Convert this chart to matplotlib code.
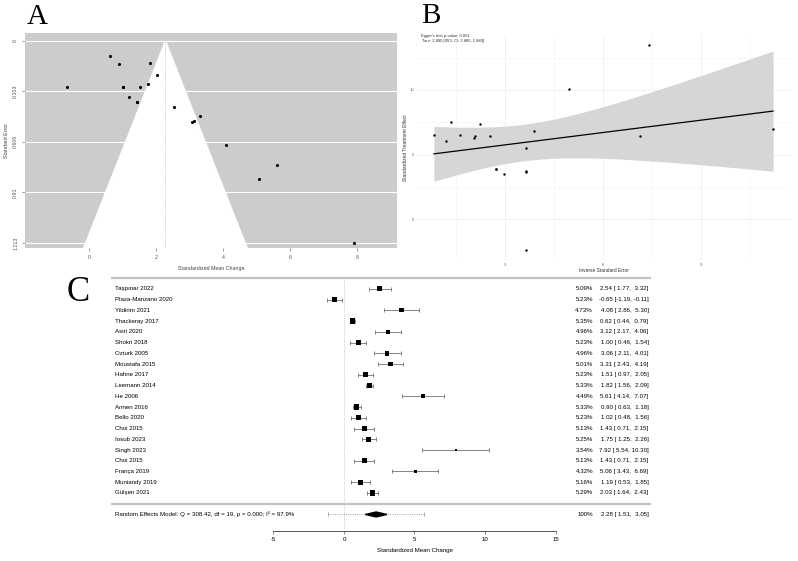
import numpy as np
import matplotlib.pyplot as plt

# study data (forest plot C)
studies = ["Taşpınar 2022", "Plaza-Manzano 2020", "Yildirim 2021", "Thackeray 2017",
           "Asiri 2020", "Shokri 2018", "Ozturk 2005", "Moustafa 2015", "Hahne 2017",
           "Leemann 2014", "He 2006", "Annen 2016", "Bello 2020", "Choi 2015",
           "Iosub 2023", "Singh 2023", "Choi 2015", "França 2019", "Muniandy 2019",
           "Gülşen 2021"]
smd = [2.54, -0.65, 4.08, 0.62, 3.12, 1.00, 3.06, 3.31, 1.51, 1.82,
       5.61, 0.90, 1.02, 1.43, 1.75, 7.92, 1.43, 5.06, 1.19, 2.03]
ci_low = [1.77, -1.19, 2.86, 0.44, 2.17, 0.46, 2.11, 2.43, 0.97, 1.56,
          4.14, 0.63, 0.48, 0.71, 1.25, 5.54, 0.71, 3.43, 0.53, 1.64]
ci_high = [3.32, -0.11, 5.30, 0.79, 4.06, 1.54, 4.01, 4.19, 2.05, 2.09,
           7.07, 1.18, 1.56, 2.15, 2.26, 10.30, 2.15, 6.69, 1.85, 2.43]
weights = [5.09, 5.23, 4.73, 5.35, 4.96, 5.23, 4.96, 5.01, 5.23, 5.33,
           4.49, 5.33, 5.23, 5.13, 5.25, 3.54, 5.13, 4.32, 5.16, 5.29]

re_est, re_low, re_high = 2.28, 1.51, 3.05
pi_low, pi_high = -1.13, 5.69
re_label = "Random Effects Model: Q = 308.42, df = 19, p = 0.000; I² = 97.9%"

funnel_ticks = [0, 0.303, 0.606, 0.91, 1.213]
funnel_tick_labels = ["0", "0.303", "0.606", "0.91", "1.213"]
egger_text = "Egger's test p-value: 0.001\n Tau²: 2.880 [95% CI: 2.880, 1.889]"

smd = np.array(smd)
ci_low = np.array(ci_low)
ci_high = np.array(ci_high)
weights = np.array(weights)
se = (ci_high - ci_low) / (2 * 1.96)

plt.rcParams['font.family'] = ['Liberation Sans', 'DejaVu Sans']
plt.rcParams['axes.unicode_minus'] = False
W, H = 798, 561
fig = plt.figure(figsize=(W / 100, H / 100), dpi=100)


def px_axes(left, top, right, bottom):
    return fig.add_axes([left / W, 1 - bottom / H, (right - left) / W, (bottom - top) / H])


# ---------------- A: funnel plot ----------------
axA = px_axes(25, 33, 397, 248)
axA.set_facecolor('#cccccc')
se_max = 1.244
axA.set_xlim(-1.91, 9.19)
axA.set_ylim(se_max, -0.048)
axA.fill([re_est - 1.96 * se_max, re_est, re_est + 1.96 * se_max], [se_max, 0, se_max],
         color='white', zorder=1)
for t in funnel_ticks:
    axA.axhline(t, color='white', lw=0.8, zorder=0.5)
axA.plot([re_est, re_est], [0, se_max], ls=':', color='#b0b0b0', lw=0.6, zorder=2)
axA.scatter(smd, se, s=5, color='black', zorder=3, linewidths=0)
axA.set_yticks(funnel_ticks)
axA.set_yticklabels(funnel_tick_labels, rotation=90, va='center')
axA.set_xticks([0, 2, 4, 6, 8])
for s in axA.spines.values():
    s.set_visible(False)
axA.tick_params(labelsize=3.8, colors='#555555', length=2, width=0.4, pad=3)
axA.set_xlabel("Standardized Mean Change", fontsize=3.8, color='#444444', labelpad=4)
axA.set_ylabel("Standard Error", fontsize=3.8, color='#444444', labelpad=3)

# ---------------- B: Egger's regression ----------------
axB = px_axes(417, 35, 790, 260)
xb = 1 / se
yb = smd / se
slope, icpt = np.polyfit(xb, yb, 1)
n = len(xb)
resid = yb - (icpt + slope * xb)
s_res = np.sqrt(np.sum(resid ** 2) / (n - 2))
sxx = np.sum((xb - xb.mean()) ** 2)
xs = np.linspace(xb.min(), xb.max(), 80)
fit = icpt + slope * xs
band = 2.101 * s_res * np.sqrt(1 / n + (xs - xb.mean()) ** 2 / sxx)
axB.fill_between(xs, fit - band, fit + band, color='#d6d6d6', lw=0, zorder=1)
axB.plot(xs, fit, color='black', lw=0.9, zorder=2)
axB.scatter(xb, yb, s=3, color='black', zorder=3, linewidths=0)
axB.margins(0.05)
axB.set_xticks([3, 6, 9])
axB.set_xticks([1.5, 4.5, 7.5, 10.5], minor=True)
axB.set_yticks([0, 5, 10])
axB.set_yticks([2.5, 7.5, 12.5], minor=True)
axB.grid(which='major', color='#ebebeb', lw=0.5)
axB.grid(which='minor', color='#f4f4f4', lw=0.4)
axB.set_axisbelow(True)
for s in axB.spines.values():
    s.set_visible(False)
axB.tick_params(which='both', length=0, labelsize=3, colors='#666666', pad=2)
axB.set_xlabel("Inverse Standard Error", fontsize=3.5, color='#333333', labelpad=1)
axB.set_ylabel("Standardized Treatment Effect", fontsize=3.5, color='#333333', labelpad=1)
fig.text(421 / W, 1 - 34 / H, egger_text, fontsize=3, va='top', ha='left',
         color='#333333', linespacing=1.3)

# ---------------- C: forest plot ----------------
axC = px_axes(112, 273, 650, 531)
x_left, x_right = -16.45, 21.7
axC.set_xlim(x_left, x_right)
axC.set_ylim(-2.54, 21.48)
rows = np.arange(len(studies), 0, -1)

axC.plot([x_left, x_right], [21, 21], color='#c4c4c4', lw=1.6, clip_on=False)
axC.plot([x_left, x_right], [0, 0], color='#c4c4c4', lw=1.6, clip_on=False)
axC.plot([0, 0], [-2.3, 21], ls=':', color='#b5b5b5', lw=0.6, zorder=0)

axC.hlines(rows, ci_low, ci_high, color='#555555', lw=0.5)
axC.plot(ci_low, rows, ls='none', marker='|', ms=2.4, mew=0.5, color='#555555')
axC.plot(ci_high, rows, ls='none', marker='|', ms=2.4, mew=0.5, color='#555555')
psize = 0.5 + (weights - weights.min()) / (weights.max() - weights.min())
axC.scatter(smd, rows, marker='s', s=(psize * 3.6 * 0.72) ** 2, color='black',
            linewidths=0, zorder=3)

for r, name, w, m, lo, hi in zip(rows, studies, weights, smd, ci_low, ci_high):
    axC.text(-16.24, r, name, fontsize=4.4, va='center', ha='left')
    axC.text(17.66, r, f"{w:.2f}%", fontsize=4.4, va='center', ha='right')
    axC.text(21.6, r, f"{m:.2f} [{lo:5.2f}, {hi:5.2f}]", fontsize=4.4, va='center', ha='right')

# summary row
axC.plot([pi_low, pi_high], [-1, -1], ls=':', color='#888888', lw=0.6)
axC.plot([pi_low, pi_high], [-1, -1], ls='none', marker='|', ms=2.4, mew=0.5, color='#888888')
axC.fill([re_low, re_est, re_high, re_est], [-1, -0.77, -1, -1.23], color='black', zorder=3)
axC.text(-16.24, -1, re_label, fontsize=4.4, va='center', ha='left')
axC.text(17.66, -1, "100%", fontsize=4.4, va='center', ha='right')
axC.text(21.6, -1, f"{re_est:.2f} [{re_low:5.2f}, {re_high:5.2f}]", fontsize=4.4,
         va='center', ha='right')

for side in ['left', 'right', 'top']:
    axC.spines[side].set_visible(False)
axC.spines['bottom'].set_bounds(-5, 15)
axC.spines['bottom'].set_color('#555555')
axC.spines['bottom'].set_linewidth(0.7)
axC.set_xticks([-5, 0, 5, 10, 15])
axC.set_yticks([])
axC.tick_params(axis='x', labelsize=4.4, length=2.5, width=0.5, color='#555555', pad=2)
axC.set_xlabel("Standardized Mean Change", fontsize=4.4, labelpad=3)
axC.xaxis.set_label_coords((5 - x_left) / (x_right - x_left), -0.065)

# panel letters
fig.text(27 / W, 1 - 4 / H, "A", fontsize=21, family='Liberation Serif', va='top', ha='left')
fig.text(421 / W, 1 - 3 / H, "B", fontsize=21, family='Liberation Serif', va='top', ha='left')
fig.text(67 / W, 1 - 276 / H, "C", fontsize=25, family='Liberation Serif', va='top', ha='left')

fig.savefig("out.png", dpi=100)
